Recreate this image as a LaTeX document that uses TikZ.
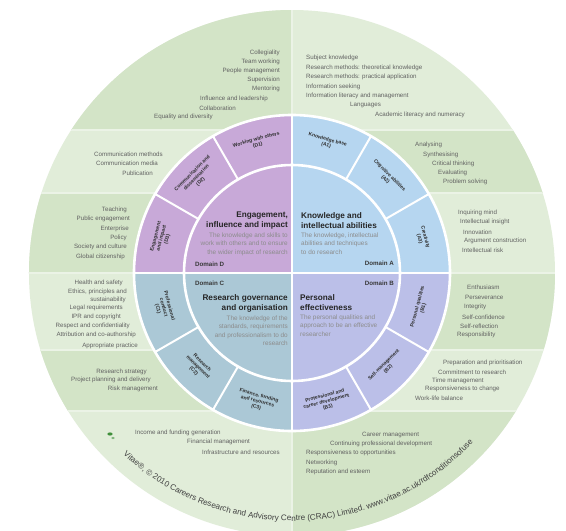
\documentclass[tikz,border=0pt]{standalone}
\usepackage{fontspec}
\setmainfont{Liberation Sans}
\usetikzlibrary{decorations.text}
\definecolor{outerD}{HTML}{D3E4C7}
\definecolor{outerL}{HTML}{E1EDD9}
\definecolor{domA}{HTML}{B6D6F0}
\definecolor{domB}{HTML}{BBBFE8}
\definecolor{domC}{HTML}{ABC8D6}
\definecolor{domD}{HTML}{C8A9D8}
\definecolor{logogreen}{HTML}{3F8F3A}
\begin{document}
\begin{tikzpicture}[x=1pt,y=1pt,
  desc/.style={font=\fontsize{6.2}{7}\selectfont, text=black!62, inner sep=0pt},
  sublabel/.style={font=\fontsize{5.0}{5.9}\selectfont\bfseries, text=black!82, align=center, inner sep=0pt},
  dtitle/.style={font=\fontsize{8.2}{10}\selectfont\bfseries, text=black!85, inner sep=0pt},
  ddesc/.style={font=\fontsize{6.4}{8.1}\selectfont, text=black!45, inner sep=0pt},
  dname/.style={font=\fontsize{6.2}{7}\selectfont\bfseries, text=black!78, inner sep=0pt},
  bandline/.style={white!55!outerD, line width=1.2},
  ringline/.style={white, line width=2.6},
  segline/.style={white, line width=2}]
\useasboundingbox (-292,-258) rectangle (274,273);
\fill[white] (-292,-258) rectangle (274,273);
% outer ring bands (checkerboard of two greens)
\begin{scope}
  \clip (0,0) circle (263);
  \fill[outerL] (-270,-270) rectangle (270,270);
  \fill[outerD] (-270,270) rectangle (0,143);
  \fill[outerD] (-270,80) rectangle (0,0);
  \fill[outerD] (-270,-77) rectangle (0,-138);
  \fill[outerD] (0,143) rectangle (270,80);
  \fill[outerD] (0,0) rectangle (270,-77);
  \fill[outerD] (0,-138) rectangle (270,-270);
  \draw[bandline] (-270,143) -- (270,143);
  \draw[bandline] (-270,80) -- (270,80);
  \draw[bandline] (-270,0) -- (270,0);
  \draw[bandline] (-270,-77) -- (270,-77);
  \draw[bandline] (-270,-138) -- (270,-138);
  \draw[bandline] (0,150) -- (0,270);
  \draw[bandline] (0,-150) -- (0,-270);
\end{scope}
% domain quadrants
\fill[domA] (0,0) -- (0:158) arc[start angle=0, end angle=90, radius=158] -- cycle;
\fill[domD] (0,0) -- (90:158) arc[start angle=90, end angle=180, radius=158] -- cycle;
\fill[domC] (0,0) -- (180:158) arc[start angle=180, end angle=270, radius=158] -- cycle;
\fill[domB] (0,0) -- (270:158) arc[start angle=270, end angle=360, radius=158] -- cycle;
\draw[ringline] (0,0) circle (158);
\draw[ringline] (0,0) circle (108);
\foreach \a in {30,60,120,150,210,240,300,330}
  \draw[segline] (\a:108) -- (\a:158);
\draw[segline] (-159,0) -- (159,0);
\draw[segline] (0,-159) -- (0,159);
% sub-domain labels, upper half
\foreach \a/\t [count=\i] in {75/{Knowledge base\\(A1)}, 45/{Cognitive abilities\\(A2)}, 15/{Creativity\\(A3)},
    165/{Engagement\\and impact\\(D3)}, 135/{Communication and\\dissemination\\(D2)}, 105/{Working with others\\(D1)}}
  \node[sublabel, rotate=\a-90, name=up\i] at (\a:135) {\t};
% sub-domain labels, lower half
\foreach \a/\t [count=\i] in {-15/{Personal qualities\\(B1)}, -45/{Self-management\\(B2)}, -75/{Professional and\\career development\\(B3)},
    -105/{Finance, funding\\and resources\\(C3)}, -135/{Research\\management\\(C2)}, -165/{Professional\\conduct\\(C1)}}
  \node[sublabel, rotate=\a+90, name=lo\i] at (\a:133) {\t};
% texts placed in pixel coordinates
\begin{scope}[shift={(-292,273)}, y=-1pt]
  % Domain A
  \node[dtitle, anchor=north west, align=left] (tA) at (301,212) {Knowledge and\\intellectual abilities};
  \node[ddesc, anchor=north west, align=left] (dA) at (301,233) {The knowledge, intellectual\\abilities and techniques\\to do research};
  \node[dname, anchor=east] (nA) at (394,263) {Domain A};
  % Domain D
  \node[dtitle, anchor=north east, align=right] (tD) at (288,212) {Engagement,\\influence and impact};
  \node[ddesc, anchor=north east, align=right] (dD) at (288,233) {The knowledge and skills to\\work with others and to ensure\\the wider impact of research};
  \node[dname, anchor=west] (nD) at (195,264) {Domain D};
  % Domain B
  \node[dname, anchor=east] (nB) at (394,283) {Domain B};
  \node[dtitle, anchor=north west, align=left] (tB) at (300,294) {Personal\\effectiveness};
  \node[ddesc, anchor=north west, align=left] (dB) at (300,315) {The personal qualities and\\approach to be an effective\\researcher};
  % Domain C
  \node[dname, anchor=west] (nC) at (195,283) {Domain C};
  \node[dtitle, anchor=north east, align=right] (tC) at (288,294) {Research governance\\and organisation};
  \node[ddesc, anchor=north east, align=right] (dC) at (288,316) {The knowledge of the\\standards, requirements\\and professionalism to do\\research};
  % D1
  \foreach \x/\y/\t [count=\i] in {280/53/Collegiality, 280/62/Team working, 280/71/People management,
      280/80/Supervision, 280/89/Mentoring, 268/99/Influence and leadership, 236/108/Collaboration,
      213/117/Equality and diversity}
    \node[desc, anchor=east, name=dd1\i] at (\x,\y) {\t};
  % A1
  \foreach \x/\y/\t [count=\i] in {306/58/Subject knowledge, 306/68/Research methods: theoretical knowledge,
      306/77/Research methods: practical application, 306/87/Information seeking,
      306/96/Information literacy and management, 350/105/Languages, 375/115/Academic literacy and numeracy}
    \node[desc, anchor=west, name=da1\i] at (\x,\y) {\t};
  % A2
  \foreach \x/\y/\t [count=\i] in {415/145/Analysing, 423/155/Synthesising, 432/164/Critical thinking,
      438/173/Evaluating, 443/182/Problem solving}
    \node[desc, anchor=west, name=da2\i] at (\x,\y) {\t};
  % A3
  \foreach \x/\y/\t [count=\i] in {458/213/Inquiring mind, 460/222/Intellectual insight, 463/232/Innovation,
      464/241/Argument construction, 462/250/Intellectual risk}
    \node[desc, anchor=west, name=da3\i] at (\x,\y) {\t};
  % B1
  \foreach \x/\y/\t [count=\i] in {467/287/Enthusiasm, 465/297/Perseverance, 464/307/Integrity,
      462/317/Self-confidence, 460/326/Self-reflection, 457/335/Responsibility}
    \node[desc, anchor=west, name=db1\i] at (\x,\y) {\t};
  % B2
  \foreach \x/\y/\t [count=\i] in {443/363/Preparation and prioritisation, 438/372/Commitment to research,
      432/381/Time management, 425/389/Responsiveness to change, 415/398/Work-life balance}
    \node[desc, anchor=west, name=db2\i] at (\x,\y) {\t};
  % B3
  \foreach \x/\y/\t [count=\i] in {362/435/Career management, 330/444/Continuing professional development,
      306/453/Responsiveness to opportunities, 306/463/Networking, 306/472/Reputation and esteem}
    \node[desc, anchor=west, name=db3\i] at (\x,\y) {\t};
  % C3
  \foreach \x/\y/\t [count=\i] in {135/433/Income and funding generation, 187/442/Financial management,
      202/452/Infrastructure and resources}
    \node[desc, anchor=west, name=dc3\i] at (\x,\y) {\t};
  % C2
  \foreach \x/\y/\t [count=\i] in {147/372/Research strategy, 151/380/Project planning and delivery,
      158/389/Risk management}
    \node[desc, anchor=east, name=dc2\i] at (\x,\y) {\t};
  % C1
  \foreach \x/\y/\t [count=\i] in {123/283/Health and safety, 127/292/{Ethics, principles and}, 126/300/sustainability,
      123/308/Legal requirements, 121/317/IPR and copyright, 130/326/Respect and confidentiality,
      136/335/Attribution and co-authorship, 138/346/Appropriate practice}
    \node[desc, anchor=east, name=dc1\i] at (\x,\y) {\t};
  % D3
  \foreach \x/\y/\t [count=\i] in {127/210/Teaching, 130/219/Public engagement, 129/229/Enterprise,
      127/238/Policy, 127/247/Society and culture, 125/257/Global citizenship}
    \node[desc, anchor=east, name=dd3\i] at (\x,\y) {\t};
  % D2
  \foreach \x/\y/\t [count=\i] in {163/154/Communication methods, 158/163/Communication media, 153/173/Publication}
    \node[desc, anchor=east, name=dd2\i] at (\x,\y) {\t};
\end{scope}
% logo
\fill[logogreen] (-182,-161) ellipse (2.6 and 1.6);
\fill[logogreen!70!white] (-179,-165) ellipse (1.8 and 1.2);
% copyright along the rim
\path[decorate, decoration={text along path, text align=center, text color=black!75,
  text={|\fontsize{8.1}{9}\selectfont|Vitae®, © 2010 Careers Research and Advisory Centre (CRAC) Limited. www.vitae.ac.uk/rdfconditionsofuse}}]
  (-139:248) arc[start angle=-139, end angle=-37, radius=248];
\end{tikzpicture}
\end{document}
